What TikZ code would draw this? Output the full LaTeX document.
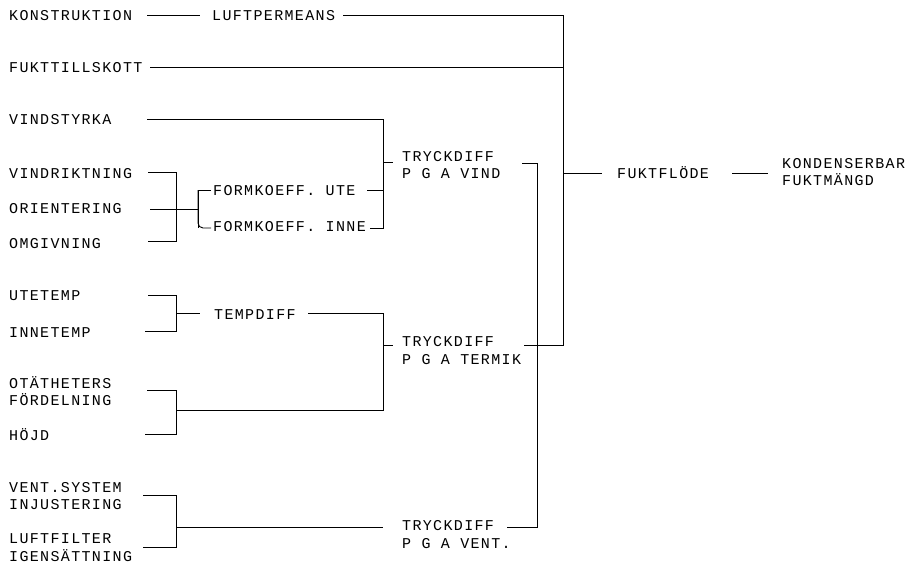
\documentclass[tikz,border=0pt]{standalone}
\usepackage{fontspec}
\newfontfamily\prfont[LetterSpace=9]{Liberation Mono}
\begin{document}
\begin{tikzpicture}[x=1pt,y=-1pt,
  txt/.style={anchor=base west, inner sep=0pt, font=\prfont\fontsize{15}{18}\selectfont},
  ln/.style={line width=0.9pt, black}]
\useasboundingbox (0,0) rectangle (913,568);
% ---- text nodes (baseline = centre + 5) ----
\node[txt] (kons)   at (9,20)   {KONSTRUKTION};
\node[txt] (luft)   at (212,20) {LUFTPERMEANS};
\node[txt] (fukt)   at (9,72)   {FUKTTILLSKOTT};
\node[txt] (vstyr)  at (9,124)  {VINDSTYRKA};
\node[txt] (vrikt)  at (9,178)  {VINDRIKTNING};
\node[txt] (orient) at (9,213)  {ORIENTERING};
\node[txt] (omgiv)  at (9,248)  {OMGIVNING};
\node[txt] (fute)   at (213,195) {FORMKOEFF. UTE};
\node[txt] (finne)  at (213,231) {FORMKOEFF. INNE};
\node[txt] (tva)    at (402,161) {TRYCKDIFF};
\node[txt] (tvb)    at (402,178) {P G A VIND};
\node[txt] (ute)    at (9,300)  {UTETEMP};
\node[txt] (inne)   at (9,337)  {INNETEMP};
\node[txt] (tdiff)  at (214,319) {TEMPDIFF};
\node[txt] (tta)    at (402,346) {TRYCKDIFF};
\node[txt] (ttb)    at (402,364) {P G A TERMIK};
\node[txt] (otta)   at (9,388)  {OTÄTHETERS};
\node[txt] (ottb)   at (9,405)  {FÖRDELNING};
\node[txt] (hojd)   at (9,440)  {HÖJD};
\node[txt] (venta)  at (9,492)  {VENT.SYSTEM};
\node[txt] (ventb)  at (9,509)  {INJUSTERING};
\node[txt] (lfa)    at (9,543)  {LUFTFILTER};
\node[txt] (lfb)    at (9,561)  {IGENSÄTTNING};
\node[txt] (tvea)   at (402,530) {TRYCKDIFF};
\node[txt] (tveb)   at (402,548) {P G A VENT.};
\node[txt] (fflode) at (617,178) {FUKTFLÖDE};
\node[txt] (konda)  at (782,168) {KONDENSERBAR};
\node[txt] (kondb)  at (782,185) {FUKTMÄNGD};
% ---- junction coordinates ----
\coordinate (k1) at (147,15);  \coordinate (k2) at (200,15);
\coordinate (l1) at (343,15);  \coordinate (R1) at (563,15);
\coordinate (f1) at (150,67);  \coordinate (R2) at (563,67);
\coordinate (R3) at (563,173); \coordinate (ff1) at (602,173);
\coordinate (ff2) at (732,173); \coordinate (ff3) at (768,173);
\coordinate (R4) at (563,345); \coordinate (tm1) at (524,345);
\coordinate (s1) at (147,119); \coordinate (V1) at (383,119);
\coordinate (V2) at (383,162); \coordinate (V3) at (393,162);
\coordinate (V4) at (383,190); \coordinate (u1) at (367,190);
\coordinate (V6) at (383,228); \coordinate (i1) at (370,228);
\coordinate (r1) at (148,172); \coordinate (B1) at (176,172);
\coordinate (o1) at (150,209); \coordinate (B2) at (198,209);
\coordinate (m1) at (148,241); \coordinate (B3) at (176,241);
\coordinate (C1) at (211,190); \coordinate (C2) at (198,190);
\coordinate (C3) at (198,228); \coordinate (C4) at (211,228);
\coordinate (ut1) at (148,295); \coordinate (D1) at (176,295);
\coordinate (in1) at (145,331); \coordinate (D2) at (176,331);
\coordinate (D3) at (176,313); \coordinate (D4) at (200,313);
\coordinate (td1) at (308,313); \coordinate (T1) at (383,313);
\coordinate (T2) at (383,410); \coordinate (T3) at (383,345); \coordinate (T4) at (393,345);
\coordinate (ot1) at (147,390); \coordinate (E1) at (176,390);
\coordinate (h1) at (145,434);  \coordinate (E2) at (176,434);
\coordinate (E3) at (176,410);
\coordinate (ve1) at (143,495); \coordinate (G1) at (176,495);
\coordinate (lf1) at (143,547); \coordinate (G2) at (176,547);
\coordinate (G3) at (176,527);  \coordinate (G4) at (383,527);
\coordinate (w1) at (507,527);  \coordinate (W1) at (537,527);
\coordinate (W2) at (537,163);  \coordinate (w2) at (522,163);
% ---- connectors ----
\draw[ln] (k1) -- (k2);
\draw[ln] (l1) -- (R1) -- (R4) -- (tm1);
\draw[ln] (f1) -- (R2);
\draw[ln] (R3) -- (ff1);
\draw[ln] (ff2) -- (ff3);
\draw[ln] (s1) -- (V1) -- (V6) -- (i1);
\draw[ln] (V2) -- (V3);
\draw[ln] (u1) -- (V4);
\draw[ln] (r1) -- (B1) -- (B3) -- (m1);
\draw[ln] (o1) -- (B2);
\draw[ln] (C1) -- (C2) -- (C3);
\draw[ln, rounded corners=5pt] (C2) -- (C3) -- (C4);
\draw[ln] (ut1) -- (D1) -- (D2) -- (in1);
\draw[ln] (D3) -- (D4);
\draw[ln] (td1) -- (T1) -- (T2) -- (E3);
\draw[ln] (T3) -- (T4);
\draw[ln] (ot1) -- (E1) -- (E2) -- (h1);
\draw[ln] (ve1) -- (G1) -- (G2) -- (lf1);
\draw[ln] (G3) -- (G4);
\draw[ln] (w1) -- (W1) -- (W2) -- (w2);
\end{tikzpicture}
\end{document}
